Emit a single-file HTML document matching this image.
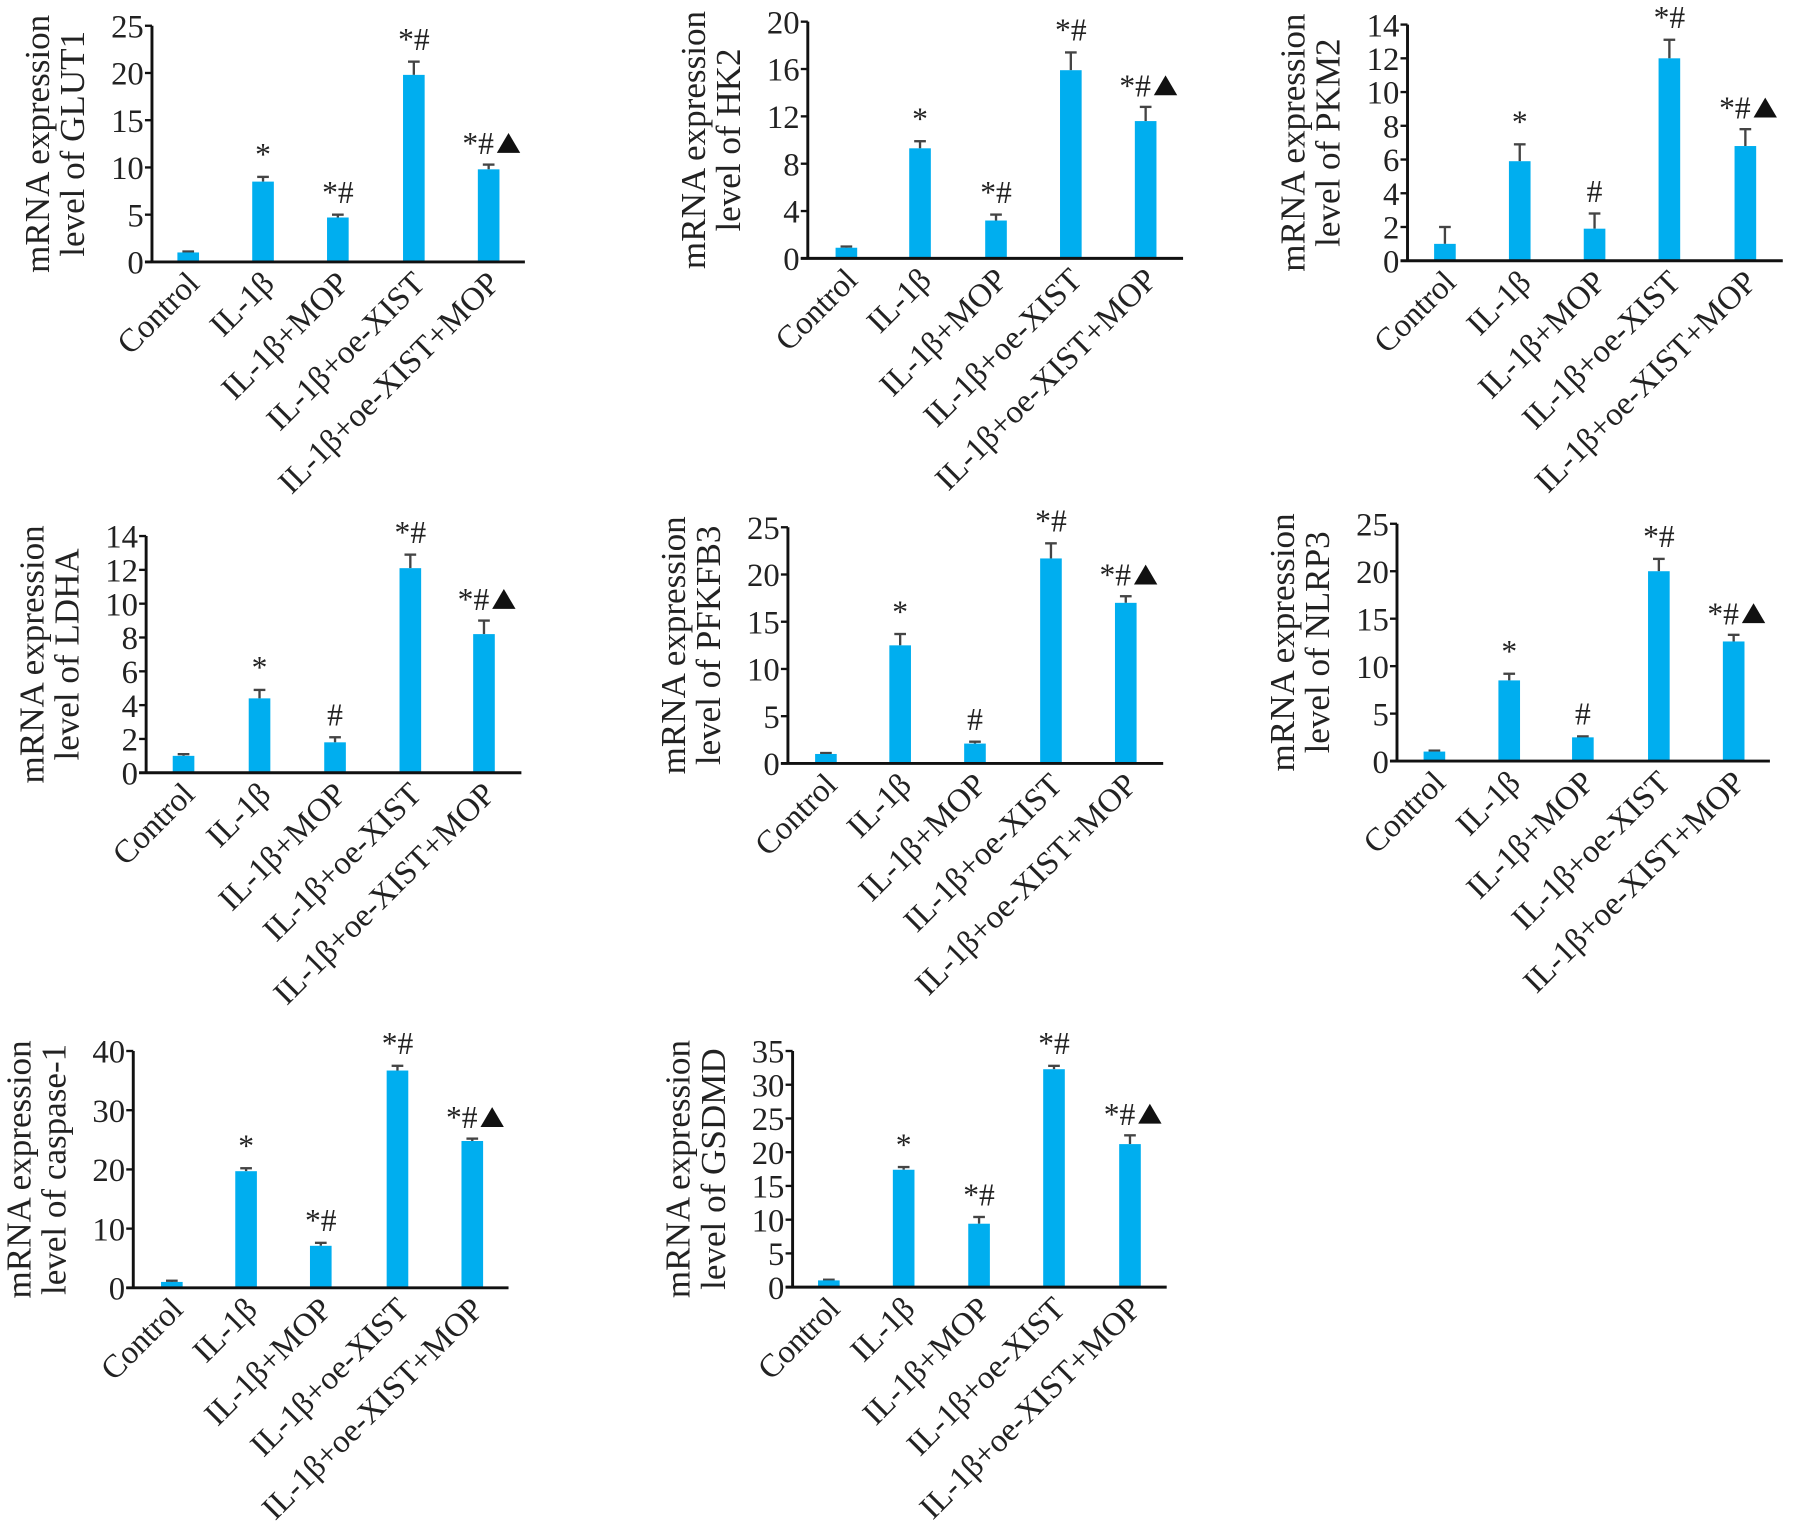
<!DOCTYPE html>
<html><head><meta charset="utf-8"><style>html,body{margin:0;padding:0;background:#fff}svg{display:block}</style></head>
<body>
<svg id="s" xmlns="http://www.w3.org/2000/svg" width="1812" height="1528" viewBox="0 0 1550 1307" font-family="Liberation Serif, serif" fill="#222"></svg>
<script>
const P=[
{ax:130,top:22,zero:224,end:449,max:25,step:5,bars:[161,225,289,354,418],v:[1,8.5,4.7,19.8,9.8],e:[.1,.5,.3,1.4,.5],a:["","*","*#","*#","*#▲"],t:["mRNA expression","level of GLUT1"]},
{ax:691,top:18.5,zero:221,end:1012,max:20,step:4,bars:[724,787,852,916,980],v:[.9,9.3,3.2,15.9,11.6],e:[.1,.6,.5,1.5,1.2],a:["","*","*#","*#","*#▲"],t:["mRNA expression","level of HK2"]},
{ax:1204,top:21,zero:223,end:1525,max:14,step:2,bars:[1236,1300,1364,1428,1493],v:[1,5.9,1.9,12,6.8],e:[1,1,.9,1.1,1],a:["","*","#","*#","*#▲"],t:["mRNA expression","level of PKM2"]},
{ax:125,top:458.5,zero:661,end:446,max:14,step:2,bars:[157,222,286.6,351,414],v:[1,4.4,1.8,12.1,8.2],e:[.1,.5,.3,.8,.8],a:["","*","#","*#","*#▲"],t:["mRNA expression","level of LDHA"]},
{ax:674,top:451,zero:653,end:995,max:25,step:5,bars:[706.5,770,834,899,963],v:[1,12.5,2.1,21.7,17],e:[.1,1.2,.2,1.6,.7],a:["","*","#","*#","*#▲"],t:["mRNA expression","level of PFKFB3"]},
{ax:1195,top:448,zero:651,end:1514,max:25,step:5,bars:[1227,1291,1354,1419,1483],v:[1,8.5,2.5,20,12.6],e:[.1,.7,.1,1.3,.7],a:["","*","#","*#","*#▲"],t:["mRNA expression","level of NLRP3"]},
{ax:114,top:899,zero:1101.6,end:435,max:40,step:10,bars:[147,210.5,274.4,340,404],v:[1,19.7,7.1,36.7,24.8],e:[.2,.5,.5,.8,.4],a:["","*","*#","*#","*#▲"],t:["mRNA expression","level of caspase-1"]},
{ax:678,top:899,zero:1101,end:998,max:35,step:5,bars:[709,773,837.5,901.6,966.6],v:[1,17.4,9.4,32.3,21.2],e:[.1,.4,1,.5,1.3],a:["","*","*#","*#","*#▲"],t:["mRNA expression","level of GSDMD"]}
];
const L=["Control","IL-1β","IL-1β+MOP","IL-1β+oe-XIST","IL-1β+oe-XIST+MOP"];
let h="";
for(const p of P){
 const sc=(p.zero-p.top)/p.max, y=v=>p.zero-v*sc;
 for(let i=0;i<5;i++){
  const c=p.bars[i],yt=y(p.v[i]),ye=y(p.v[i]+p.e[i]);
  h+=`<line x1="${c}" x2="${c}" y1="${yt}" y2="${ye}" stroke="#444" stroke-width="2"/><line x1="${c-5}" x2="${c+5}" y1="${ye}" y2="${ye}" stroke="#444" stroke-width="2"/>`;
  h+=`<rect x="${c-9.25}" y="${yt}" width="18.5" height="${p.zero-yt}" fill="#00AEEF"/>`;
  if(p.a[i]){const tri=p.a[i].includes("▲");const s=p.a[i].replace("▲","");
   if(tri){const b=ye-9;
    h+=`<text x="${c-9}" y="${b}" font-size="27" text-anchor="middle">${s}</text>`;
    h+=`<polygon points="${c+7},${b-1} ${c+27},${b-1} ${c+17},${b-18}" fill="#111"/>`;
   } else h+=`<text x="${c}" y="${ye-10}" font-size="27" text-anchor="middle">${s}</text>`;}
  h+=`<text transform="translate(${c+11},${p.zero+20}) rotate(-45)" font-size="28" text-anchor="end">${L[i]}</text>`;
 }
 h+=`<line x1="${p.ax}" x2="${p.ax}" y1="${p.top}" y2="${p.zero}" stroke="#111" stroke-width="2.5"/>`;
 h+=`<line x1="${p.ax-6}" x2="${p.end}" y1="${p.zero}" y2="${p.zero}" stroke="#111" stroke-width="2.5"/>`;
 for(let v=0;v<=p.max;v+=p.step){const yy=y(v);
  h+=`<line x1="${p.ax-6}" x2="${p.ax}" y1="${yy}" y2="${yy}" stroke="#111" stroke-width="2"/>`;
  h+=`<text x="${p.ax-7}" y="${yy+10}" font-size="28" text-anchor="end">${v}</text>`;}
 const cy=(p.top+p.zero)/2;
 const tx=[p.ax-88,p.ax-58];
 for(let k=0;k<2;k++)h+=`<text transform="translate(${tx[k]},${cy}) rotate(-90)" font-size="30" text-anchor="middle">${p.t[k]}</text>`;
}
document.getElementById("s").innerHTML=h;
</script>
</body></html>
